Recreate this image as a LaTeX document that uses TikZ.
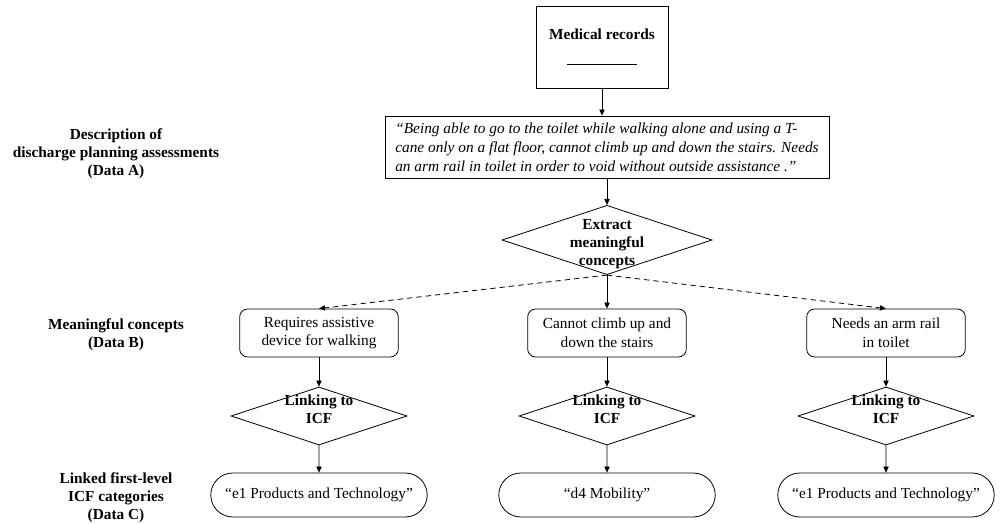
\documentclass[tikz,border=0pt]{standalone}
\usepackage{fontspec}
\setmainfont{Liberation Serif}
\usetikzlibrary{shapes.geometric, shapes.misc, arrows.meta}

\tikzset{
    every node/.style={font=\fontsize{11.5}{14}\selectfont},
    arr/.style={-{Triangle[length=4.5pt, width=4pt]}, line width=0.6pt},
    dasharr/.style={arr, dash pattern=on 4pt off 3pt},
    recordbox/.style={draw, line width=0.6pt, minimum width=99pt, minimum height=61.5pt, align=center},
    quotebox/.style={draw, line width=0.6pt, minimum width=333pt, minimum height=46.5pt, align=left,
        font=\fontsize{11.5}{14.25}\selectfont\itshape},
    decision/.style={diamond, draw, line width=0.6pt, inner sep=0pt},
    conceptbox/.style={draw, rounded corners=6pt, line width=0.6pt, minimum width=119pt, minimum height=36pt, align=center},
    catbox/.style={rounded rectangle, draw, line width=0.6pt, minimum width=169pt, minimum height=33pt},
    sidelabel/.style={align=center, font=\fontsize{11.5}{13.5}\selectfont\bfseries},
}

\begin{document}
\begin{tikzpicture}[x=0.75pt, y=-0.75pt]

    % Columns and rows (in pixels)
    \def\xa{319}    % left column
    \def\xb{607}    % middle column
    \def\xc{886}    % right column
    \def\xl{116}    % side labels
    \def\ya{147}    % Data A
    \def\yb{333}    % Data B
    \def\yl{416}    % linking
    \def\yc{495}    % Data C

    \useasboundingbox (0,0) rectangle (1001,524);

    % Side labels
    \node[sidelabel] (labA) at (\xl,154) {Description of\\discharge planning assessments\\(Data A)};
    \node[sidelabel] (labB) at (\xl,335) {Meaningful concepts\\(Data B)};
    \node[sidelabel] (labC) at (\xl,498) {Linked first-level\\ICF categories\\(Data C)};

    % Medical records
    \node[recordbox] (med) at (602,47) {\textbf{Medical records}\\[5pt]\rule{53pt}{0.6pt}};

    % Assessment text
    \node[quotebox] (quote) at (\xb,\ya) {“Being able to go to the toilet while walking alone and using a T-\\
        cane only on a flat floor, cannot climb up and down the stairs. Needs\\
        an arm rail in toilet in order to void without outside assistance .”};
    \draw[arr] (med) -- (med |- quote.north);

    % Extract meaningful concepts
    \node[decision, minimum width=157.5pt, minimum height=52pt,
        label={[sidelabel, yshift=-3pt]center:{Extract\\meaningful\\concepts}}] (extract) at (\xb,240) {};
    \draw[arr] (quote) -- (extract);

    % Meaningful concepts
    \node[conceptbox] (conA) at (\xa,\yb) {Requires assistive\\device for walking};
    \node[conceptbox] (conB) at (\xb,\yb) {Cannot climb up and\\down the stairs};
    \node[conceptbox] (conC) at (\xc,\yb) {Needs an arm rail\\in toilet};
    \draw[dasharr] (extract.south) -- (conA.north);
    \draw[arr] (extract) -- (conB);
    \draw[dasharr] (extract.south) -- (conC.north);

    % Linked categories
    \node[catbox] (catA) at (\xa,\yc) {“e1 Products and Technology”};
    \node[catbox] (catB) at (\xb,\yc) {“d4 Mobility”};
    \node[catbox] (catC) at (\xc,\yc) {“e1 Products and Technology”};

    % Linking to ICF
    \foreach \x/\n in {\xa/A,\xb/B,\xc/C}{
        \node[decision, minimum width=132pt, minimum height=43.5pt,
            label={[sidelabel, font=\fontsize{11.5}{14}\selectfont\bfseries, yshift=5pt]center:{Linking to\\ICF}}] (link\n) at (\x,\yl) {};
        \draw[arr] (con\n) -- (link\n);
        \draw[arr] (link\n) -- (cat\n);
    }

\end{tikzpicture}
\end{document}
